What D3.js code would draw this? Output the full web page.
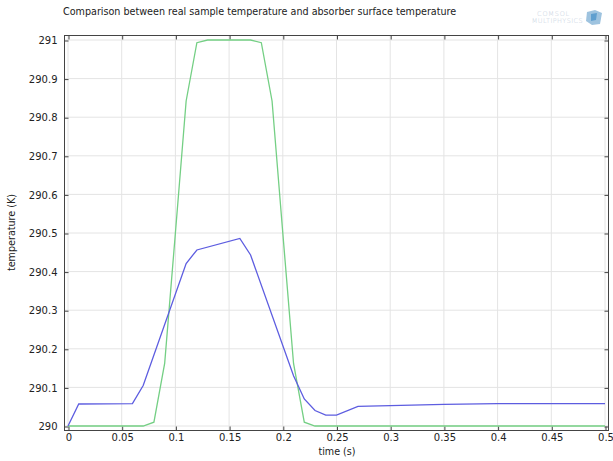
<!DOCTYPE html>
<html>
<head>
<meta charset="utf-8">
<script src="https://cdn.jsdelivr.net/npm/d3@7"></script>
<style>
  html, body { margin: 0; padding: 0; background: #fff; }
  svg { display: block; font-family: "DejaVu Sans", sans-serif; }
</style>
</head>
<body>
<svg id="chart" width="613" height="461"></svg>
<script>
// ---- data ----
const titleText = "Comparison between real sample temperature and absorber surface temperature";
const xLabel = "time (s)";
const yLabel = "temperature (K)";

// absorber surface temperature (green)
const greenTime = [0, 0.07, 0.08, 0.09, 0.10, 0.11, 0.12, 0.13, 0.17, 0.18, 0.19, 0.20, 0.21, 0.22, 0.23, 0.5];
const greenTemp = [290.0, 290.0, 290.01, 290.162, 290.5, 290.842, 290.993, 291.0, 291.0, 290.993, 290.842, 290.5, 290.162, 290.01, 290.0, 290.0];

// real sample temperature (blue)
const blueTime = [0, 0.01, 0.06, 0.07, 0.11, 0.12, 0.16, 0.17, 0.21, 0.22, 0.23, 0.24, 0.25, 0.27, 0.30, 0.35, 0.40, 0.45, 0.5];
const blueTemp = [290.0, 290.057, 290.058, 290.105, 290.421, 290.456, 290.486, 290.443, 290.13, 290.07, 290.04, 290.028, 290.028, 290.051, 290.053, 290.056, 290.058, 290.058, 290.058];

const xTicks = [0, 0.05, 0.1, 0.15, 0.2, 0.25, 0.3, 0.35, 0.4, 0.45, 0.5];
const xTickLabels = ["0", "0.05", "0.1", "0.15", "0.2", "0.25", "0.3", "0.35", "0.4", "0.45", "0.5"];
const yTicks = [290, 290.1, 290.2, 290.3, 290.4, 290.5, 290.6, 290.7, 290.8, 290.9, 291];
const yTickLabels = ["290", "290.1", "290.2", "290.3", "290.4", "290.5", "290.6", "290.7", "290.8", "290.9", "291"];

// ---- layout ----
const frame = { left: 64, right: 608, top: 35, bottom: 430 };
const x = d3.scaleLinear().domain([0, 0.5]).range([68, 605]);
const y = d3.scaleLinear().domain([290, 291]).range([426, 40]);

const svg = d3.select("#chart");

// title
svg.append("text")
  .attr("x", 63).attr("y", 15)
  .attr("font-size", 9.6)
  .attr("fill", "#222")
  .text(titleText);

// logo
const logo = svg.append("g");
logo.append("text").attr("x", 570).attr("y", 16).attr("text-anchor", "end")
  .attr("font-size", 6.5).attr("font-weight", 300).attr("fill", "#bccbda").attr("letter-spacing", 0.8).text("COMSOL");
logo.append("text").attr("x", 583).attr("y", 23).attr("text-anchor", "end")
  .attr("font-size", 6.5).attr("font-weight", 300).attr("fill", "#bccbda").attr("letter-spacing", 0.4).text("MULTIPHYSICS");
logo.append("path")
  .attr("d", "M587,12 L595,10 L602,13 L600,24 L592,25 L586,21 Z")
  .attr("fill", "#9ec3df");
logo.append("path")
  .attr("d", "M591,14 L597,13 L596,20 L591,21 Z")
  .attr("fill", "#5f9fcf");

// grid
const grid = svg.append("g");
grid.selectAll("line.gx").data(xTicks).join("line")
  .attr("x1", d => x(d)).attr("x2", d => x(d))
  .attr("y1", frame.top).attr("y2", frame.bottom)
  .attr("stroke", "#e4e4e4").attr("stroke-width", 1);
grid.selectAll("line.gy").data(yTicks).join("line")
  .attr("y1", d => y(d)).attr("y2", d => y(d))
  .attr("x1", frame.left).attr("x2", frame.right)
  .attr("stroke", "#e4e4e4").attr("stroke-width", 1);

// frame
svg.append("rect")
  .attr("x", frame.left + 0.5).attr("y", frame.top + 0.5)
  .attr("width", frame.right - frame.left).attr("height", frame.bottom - frame.top)
  .attr("fill", "none").attr("stroke", "#444").attr("stroke-width", 1);

// axes (ticks inside)
const fmtX = (d, i) => xTickLabels[i];
const fmtY = (d, i) => yTickLabels[i];

const bottomAxis = svg.append("g").attr("transform", `translate(0.5,${frame.bottom + 0.5})`)
  .call(d3.axisBottom(x).tickValues(xTicks).tickFormat(fmtX).tickSizeInner(-4).tickSizeOuter(0).tickPadding(3));
const topAxis = svg.append("g").attr("transform", `translate(0.5,${frame.top + 0.5})`)
  .call(d3.axisTop(x).tickValues(xTicks).tickFormat("").tickSizeInner(-4).tickSizeOuter(0));
const leftAxis = svg.append("g").attr("transform", `translate(${frame.left + 0.5},0.5)`)
  .call(d3.axisLeft(y).tickValues(yTicks).tickFormat(fmtY).tickSizeInner(-4).tickSizeOuter(0).tickPadding(7));
const rightAxis = svg.append("g").attr("transform", `translate(${frame.right + 0.5},0.5)`)
  .call(d3.axisRight(y).tickValues(yTicks).tickFormat("").tickSizeInner(-4).tickSizeOuter(0));

[bottomAxis, topAxis, leftAxis, rightAxis].forEach(g => {
  g.select(".domain").remove();
  g.selectAll(".tick line").attr("stroke", "#444");
  g.selectAll(".tick text").attr("font-size", 10).attr("fill", "#222").attr("font-family", "DejaVu Sans, sans-serif");
});

// axis labels
svg.append("text")
  .attr("x", 337).attr("y", 455)
  .attr("text-anchor", "middle").attr("font-size", 9.6).attr("fill", "#222")
  .text(xLabel);
svg.append("text")
  .attr("transform", `translate(15,${(frame.top + frame.bottom) / 2}) rotate(-90)`)
  .attr("text-anchor", "middle").attr("font-size", 9.6).attr("fill", "#222")
  .text(yLabel);

// lines
const line = d3.line().x(d => x(d[0])).y(d => y(d[1]));
const greenData = greenTime.map((t, i) => [t, greenTemp[i]]);
const blueData = blueTime.map((t, i) => [t, blueTemp[i]]);

svg.append("path").datum(greenData)
  .attr("d", line).attr("fill", "none")
  .attr("stroke", "#74cf84").attr("stroke-width", 1.3);
svg.append("path").datum(blueData)
  .attr("d", line).attr("fill", "none")
  .attr("stroke", "#5d5de0").attr("stroke-width", 1.3);
</script>
</body>
</html>
